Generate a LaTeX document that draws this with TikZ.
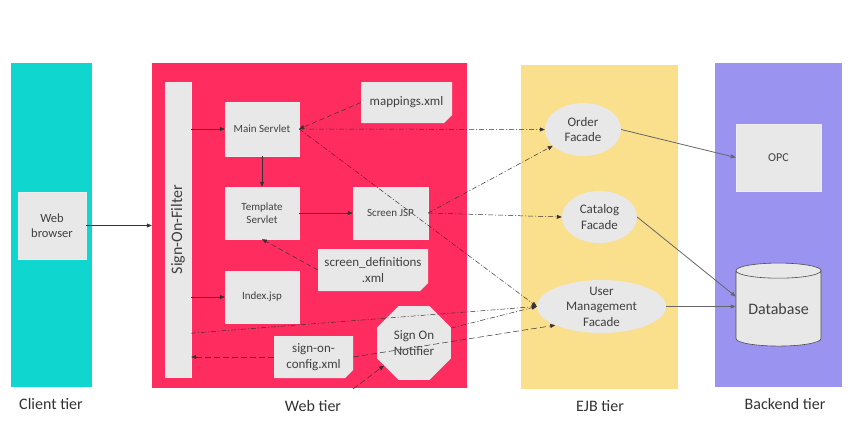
\documentclass[tikz,border=0pt]{standalone}
\usepackage{fontspec}
\setmainfont{Carlito}
\usetikzlibrary{arrows.meta}
\usetikzlibrary{shapes.geometric}
\usetikzlibrary{shapes.misc}

\definecolor{clientcyan}{RGB}{16,214,208}
\definecolor{webpink}{RGB}{255,45,95}
\definecolor{ejbyellow}{RGB}{250,224,140}
\definecolor{backendblue}{RGB}{154,148,240}
\definecolor{textgray}{RGB}{64,64,64}
\definecolor{boxgray}{RGB}{232,232,232}

\begin{document}
\begin{tikzpicture}[x=1pt, y=-1pt,
    tier/.style={rectangle, draw=none, inner sep=0pt},
    tierlabel/.style={text=black!80, font=\fontsize{16}{19}\selectfont},
    box/.style={rectangle, fill=boxgray, draw=white!85!gray, line width=0.4pt, inner sep=0pt,
      align=center, text=textgray, font=\fontsize{11}{13.5}\selectfont},
    note/.style={chamfered rectangle, chamfered rectangle corners=south east,
      chamfered rectangle sep=4pt, fill=boxgray, inner sep=0pt, align=center, text=textgray,
      font=\fontsize{13}{15.5}\selectfont,
      path picture={\fill[gray!45] ([xshift=-4pt,yshift=4pt]path picture bounding box.south east)
        -- ([xshift=-4pt]path picture bounding box.south east)
        -- ([yshift=4pt]path picture bounding box.south east) -- cycle;}},
    facade/.style={ellipse, fill=boxgray, inner sep=0pt, align=center, text=textgray,
      font=\fontsize{13}{15.5}\selectfont},
    arr/.style={-{Triangle[length=5pt,width=4pt]}, line width=0.5pt, draw=black!80},
    dashdot/.style={arr, dash pattern=on 5pt off 2pt on 1pt off 2pt},
    dashline/.style={arr, dash pattern=on 6pt off 3pt},
    solidline/.style={arr, draw=black!60, line width=0.8pt},
  ]
  \useasboundingbox (0,0) rectangle (852,421);

  % Tiers
  \node[tier, fill=clientcyan, minimum width=81pt, minimum height=324pt] (client) at (51.5,225) {};
  \node[tier, fill=webpink, minimum width=315pt, minimum height=325pt] (webtier) at (309.5,225.5) {};
  \node[tier, fill=ejbyellow, minimum width=157pt, minimum height=324pt] (ejb) at (599.5,227) {};
  \node[tier, fill=backendblue, minimum width=127pt, minimum height=324pt] (backend) at (778.5,225) {};

  \node[tierlabel] (clientlabel) at (51,404) {Client tier};
  \node[tierlabel] (weblabel) at (313,406) {Web tier};
  \node[tierlabel] (ejblabel) at (600,406) {EJB tier};
  \node[tierlabel] (backendlabel) at (785,404) {Backend tier};

  % Client tier
  \node[box, minimum width=68pt, minimum height=67pt, font=\fontsize{12.5}{15.5}\selectfont] (browser) at (52,225.5) {Web\\browser};

  % Web tier
  \node[box, minimum width=26pt, minimum height=295pt, font=\fontsize{16}{19}\selectfont] (filter) at (178,229.5) {\rotatebox{90}{Sign-On-Filter}};
  \node[box, minimum width=74pt, minimum height=54pt] (mainservlet) at (262,129) {Main Servlet};
  \node[box, minimum width=74pt, minimum height=52pt] (template) at (262,213) {Template\\Servlet};
  \node[box, minimum width=74pt, minimum height=52pt] (index) at (262,297) {Index.jsp};
  \node[box, minimum width=75pt, minimum height=52pt] (screenjsp) at (390.5,213) {Screen JSP};
  \node[note, minimum width=91pt, minimum height=41pt] (mappings) at (406.5,102.5) {mappings.xml};
  \node[note, minimum width=110pt, minimum height=42pt] (screendefs) at (373,270) {screen\_definitions\\.xml};
  \node[note, minimum width=79pt, minimum height=42pt] (signonconfig) at (313.5,357) {sign-on-\\config.xml};
  \node[regular polygon, regular polygon sides=8, minimum size=80pt, fill=boxgray, inner sep=0pt,
    align=center, text=textgray, font=\fontsize{13}{15.5}\selectfont] (notifier) at (414,343) {Sign On\\Notifier};
  \coordinate (notifierin) at (353,389);

  % EJB tier
  \node[facade, minimum width=76pt, minimum height=53pt] (order) at (583,129.5) {Order\\Facade};
  \node[facade, minimum width=75pt, minimum height=52pt] (catalog) at (599.5,217) {Catalog\\Facade};
  \node[facade, minimum width=129pt, minimum height=53pt, inner ysep=-9pt] (usermgmt) at (601.5,306.5) {User\\Management\\Facade};

  % Backend tier
  \node[box, minimum width=85pt, minimum height=67pt, font=\fontsize{12}{14}\selectfont] (opc) at (778.5,157.5) {OPC};
  \node[cylinder, shape border rotate=90, aspect=0.25, draw=black!70, line width=0.6pt, fill=boxgray,
    minimum width=85pt, minimum height=83pt, inner sep=0pt, text=textgray,
    font=\fontsize{16}{19}\selectfont] (database) at (778.5,308.5) {Database};

  % Web tier connectors
  \draw[arr] (browser.east) -- (webtier.west);
  \draw[arr] (filter.east |- mainservlet.west) -- (mainservlet.west);
  \draw[arr] (filter.east |- index.west) -- (index.west);
  \draw[arr] (mainservlet) -- (template);
  \draw[arr] (template) -- (screenjsp);
  \draw[dashline, dash pattern=on 5pt off 3pt] (mappings.west) -- (mainservlet.east);
  \draw[dashline, dash pattern=on 5pt off 3pt] (screendefs.west) -- (template.south);
  \draw[dashline] (signonconfig.west) -- (signonconfig.west -| filter.east);
  \draw[dashline] (notifierin) -- (notifier);

  % Calls into the EJB tier
  \draw[dashdot] (mainservlet.east) -- (order.west);
  \draw[dashdot] (mainservlet.east) -- (usermgmt.west);
  \draw[dashdot] (screenjsp.east) -- (order);
  \draw[dashdot] (screenjsp.east) -- (catalog.west);
  \draw[dashdot] ([yshift=44pt]filter.south east) -- (usermgmt.west);
  \draw[dashdot] (notifier.22) -- (usermgmt.west);
  \draw[dashline] (signonconfig.east) -- (usermgmt.202);

  % EJB to backend
  \draw[solidline] (order.east) -- (opc.west);
  \draw[solidline] (catalog.east) -- ([yshift=12pt]database.west);
  \draw[solidline] (usermgmt.east) -- (usermgmt.east -| database.west);

\end{tikzpicture}
\end{document}
